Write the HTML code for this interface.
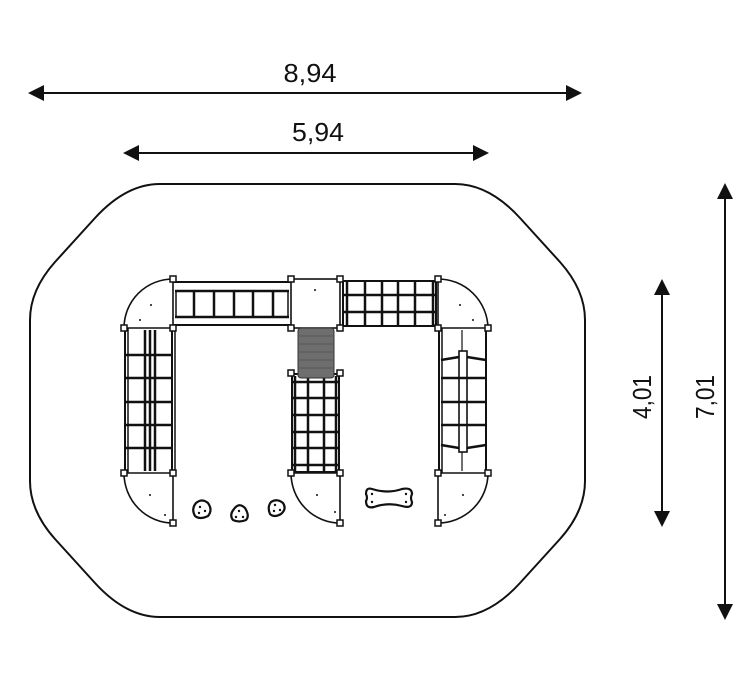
<!DOCTYPE html>
<html><head><meta charset="utf-8"><style>
html,body{margin:0;padding:0;background:#fff;}
svg{display:block;}
text{font-family:"Liberation Sans",Arial,sans-serif;fill:#111;}
</style></head><body>
<svg width="756" height="678" viewBox="0 0 756 678" xmlns="http://www.w3.org/2000/svg">
<g stroke="#111" fill="none">
<path d="M160,184 L455,184 Q489,184 520,218 L560,262 Q585,290 585,320 L585,481 Q585,511 560,539 L520,583 Q489,617 455,617 L160,617 Q126,617 95,583 L55,539 Q30,511 30,481 L30,320 Q30,290 55,262 L95,218 Q126,184 160,184Z" stroke-width="2"/>
<line x1="40" y1="93" x2="570" y2="93" stroke-width="2"/>
<line x1="135" y1="153" x2="477" y2="153" stroke-width="2"/>
<line x1="662" y1="292" x2="662" y2="514" stroke-width="2"/>
<line x1="725" y1="196" x2="725" y2="607" stroke-width="2"/>
</g>
<g fill="#111">
<polygon points="28,93 44,85 44,101"/>
<polygon points="582,93 566,85 566,101"/>
<polygon points="123,153 139,145 139,161"/>
<polygon points="489,153 473,145 473,161"/>
<polygon points="662,279 654,295 670,295"/>
<polygon points="662,527 654,511 670,511"/>
<polygon points="725,183 717,199 733,199"/>
<polygon points="725,620 717,604 733,604"/>
</g>
<text x="310" y="82" font-size="26" text-anchor="middle" textLength="53" lengthAdjust="spacingAndGlyphs">8,94</text>
<text x="318" y="141" font-size="26" text-anchor="middle" textLength="52" lengthAdjust="spacingAndGlyphs">5,94</text>
<text transform="translate(651,397) rotate(-90)" font-size="26" text-anchor="middle" textLength="44" lengthAdjust="spacingAndGlyphs">4,01</text>
<text transform="translate(714,397) rotate(-90)" font-size="26" text-anchor="middle" textLength="44" lengthAdjust="spacingAndGlyphs">7,01</text>

<g stroke="#111" fill="none" stroke-width="1.6">
<path d="M124,328 A49,49 0 0 1 173,279"/>
<path d="M438,279 A50,50 0 0 1 488,328"/>
<path d="M124,473 A49,50 0 0 0 173,523"/>
<path d="M488,473 A50,50 0 0 1 438,523"/>
<path d="M291,473 A49,50 0 0 0 340,523"/>
<line x1="124" y1="328" x2="173" y2="328"/>
<line x1="438" y1="328" x2="488" y2="328"/>
<line x1="124" y1="473" x2="173" y2="473"/>
<line x1="438" y1="473" x2="488" y2="473"/>
<line x1="173" y1="473" x2="173" y2="523"/>
<line x1="438" y1="473" x2="438" y2="523"/>
<line x1="340" y1="473" x2="340" y2="523"/>
<line x1="291" y1="473" x2="340" y2="473"/>
<rect x="291" y="279" width="49" height="49"/>
<line x1="173" y1="279" x2="173" y2="328"/>
<line x1="438" y1="279" x2="438" y2="328"/>
</g>

<g stroke="#111" fill="none">
<line x1="173" y1="282" x2="291" y2="282" stroke-width="2"/>
<line x1="173" y1="325" x2="291" y2="325" stroke-width="2"/>
<line x1="175" y1="291" x2="289" y2="291" stroke-width="2.5"/>
<line x1="175" y1="317" x2="289" y2="317" stroke-width="2.5"/>
<line x1="176" y1="291" x2="176" y2="317" stroke-width="1.5"/>
<line x1="288" y1="291" x2="288" y2="317" stroke-width="1.5"/>
<g stroke-width="2.5">
<line x1="194" y1="291" x2="194" y2="317"/><line x1="214" y1="291" x2="214" y2="317"/>
<line x1="234" y1="291" x2="234" y2="317"/><line x1="253" y1="291" x2="253" y2="317"/>
<line x1="273" y1="291" x2="273" y2="317"/>
</g>
</g>

<g stroke="#111" fill="none">
<rect x="343" y="281" width="93" height="45" stroke-width="2"/>
<g stroke-width="2.5">
<line x1="347" y1="281" x2="347" y2="326"/><line x1="433" y1="281" x2="433" y2="326"/>
<line x1="365" y1="281" x2="365" y2="326"/><line x1="382" y1="281" x2="382" y2="326"/>
<line x1="398" y1="281" x2="398" y2="326"/><line x1="415" y1="281" x2="415" y2="326"/>
<line x1="343" y1="295" x2="436" y2="295"/><line x1="343" y1="312" x2="436" y2="312"/>
</g>
</g>

<g stroke="#111" fill="none">
<line x1="125" y1="328" x2="125" y2="473" stroke-width="2"/>
<line x1="128" y1="328" x2="128" y2="473" stroke-width="1.5"/>
<line x1="172" y1="328" x2="172" y2="473" stroke-width="2"/>
<line x1="175" y1="328" x2="175" y2="473" stroke-width="1.5"/>
<g stroke-width="2.5">
<line x1="145" y1="330" x2="145" y2="471"/><line x1="150" y1="330" x2="150" y2="471"/><line x1="155" y1="330" x2="155" y2="471"/>
<line x1="126" y1="355" x2="173" y2="355"/><line x1="126" y1="378" x2="173" y2="378"/>
<line x1="126" y1="402" x2="173" y2="402"/><line x1="126" y1="425" x2="173" y2="425"/>
<line x1="126" y1="448" x2="173" y2="448"/>
</g>
</g>

<g stroke="#111" fill="none">
<rect x="292" y="374" width="47" height="98" stroke-width="2"/>
<g stroke-width="2.5">
<line x1="295" y1="376" x2="295" y2="471"/><line x1="336" y1="376" x2="336" y2="471"/>
<line x1="308" y1="376" x2="308" y2="471"/><line x1="324" y1="376" x2="324" y2="471"/>
<line x1="292" y1="382" x2="339" y2="382"/><line x1="292" y1="398" x2="339" y2="398"/>
<line x1="292" y1="415" x2="339" y2="415"/><line x1="292" y1="432" x2="339" y2="432"/>
<line x1="292" y1="448" x2="339" y2="448"/><line x1="292" y1="465" x2="339" y2="465"/>
</g>
</g>

<rect x="298" y="328" width="36" height="50" rx="3" fill="#6e6e6e" stroke="#333" stroke-width="1"/>
<g stroke="#555" stroke-width="1">
<line x1="298" y1="336" x2="334" y2="336"/><line x1="298" y1="344" x2="334" y2="344"/>
<line x1="298" y1="352" x2="334" y2="352"/><line x1="298" y1="360" x2="334" y2="360"/>
<line x1="298" y1="368" x2="334" y2="368"/>
</g>

<g stroke="#111" fill="none">
<line x1="439" y1="328" x2="439" y2="473" stroke-width="2"/>
<line x1="442" y1="328" x2="442" y2="473" stroke-width="1.5"/>
<line x1="486" y1="328" x2="486" y2="473" stroke-width="2"/>
<line x1="462" y1="330" x2="462" y2="471" stroke-width="1.2"/>
<rect x="459" y="351" width="8" height="101" stroke-width="1.6" fill="#fff"/>
<g stroke-width="2.5">
<path d="M441,360 L459,357 M467,357 L486,360"/>
<path d="M441,378 L486,378"/>
<path d="M441,402 L486,402"/>
<path d="M441,425 L486,425"/>
<path d="M441,445 L459,448 M467,448 L486,445"/>
</g>
</g>

<g fill="#fff" stroke="#111" stroke-width="1.5">
<rect x="170" y="276" width="6" height="6"/><rect x="288" y="276" width="6" height="6"/>
<rect x="337" y="276" width="6" height="6"/><rect x="435" y="276" width="6" height="6"/>
<rect x="121" y="325" width="6" height="6"/><rect x="170" y="325" width="6" height="6"/>
<rect x="288" y="325" width="6" height="6"/><rect x="337" y="325" width="6" height="6"/>
<rect x="435" y="325" width="6" height="6"/><rect x="485" y="325" width="6" height="6"/>
<rect x="288" y="370" width="6" height="6"/><rect x="337" y="370" width="6" height="6"/>
<rect x="121" y="470" width="6" height="6"/><rect x="170" y="470" width="6" height="6"/>
<rect x="288" y="470" width="6" height="6"/><rect x="337" y="470" width="6" height="6"/>
<rect x="435" y="470" width="6" height="6"/><rect x="485" y="470" width="6" height="6"/>
<rect x="170" y="520" width="6" height="6"/><rect x="337" y="520" width="6" height="6"/>
<rect x="435" y="520" width="6" height="6"/>
</g>

<g fill="#111">
<circle cx="151" cy="305" r="1"/><circle cx="140" cy="320" r="1"/><circle cx="460" cy="305" r="1"/>
<circle cx="473" cy="320" r="1"/><circle cx="150" cy="495" r="1"/><circle cx="165" cy="515" r="1"/>
<circle cx="317" cy="495" r="1"/><circle cx="335" cy="512" r="1"/><circle cx="463" cy="495" r="1"/>
<circle cx="445" cy="515" r="1"/><circle cx="315" cy="290" r="1"/>
</g>

<g fill="none" stroke="#111" stroke-width="2.2">
<path d="M196,503 Q202,498 208,503 Q213,510 208,516 Q200,520 195,516 Q191,509 196,503Z"/>
<path d="M234,509 Q239,502 245,508 Q250,516 246,520 Q239,523 233,520 Q229,515 234,509Z"/>
<path d="M271,502 Q277,498 283,503 Q287,509 281,514 Q274,518 270,514 Q267,507 271,502Z"/>
<path d="M372,489 Q388,494 402,489 Q412,487 412,494 Q410,498 412,502 Q412,509 402,506 Q388,502 374,507 Q366,509 366,501 Q368,498 366,494 Q366,487 372,489Z"/>
</g>
<g fill="#111">
<circle cx="200" cy="507" r="1.2"/><circle cx="205" cy="511" r="1.2"/><circle cx="199" cy="513" r="1.2"/>
<circle cx="239" cy="511" r="1.2"/><circle cx="236" cy="517" r="1.2"/><circle cx="243" cy="517" r="1.2"/>
<circle cx="275" cy="505" r="1.2"/><circle cx="280" cy="510" r="1.2"/><circle cx="274" cy="511" r="1.2"/>
<circle cx="372" cy="494" r="1.2"/><circle cx="372" cy="502" r="1.2"/><circle cx="406" cy="494" r="1.2"/><circle cx="406" cy="502" r="1.2"/>
</g>
</svg>
</body></html>
